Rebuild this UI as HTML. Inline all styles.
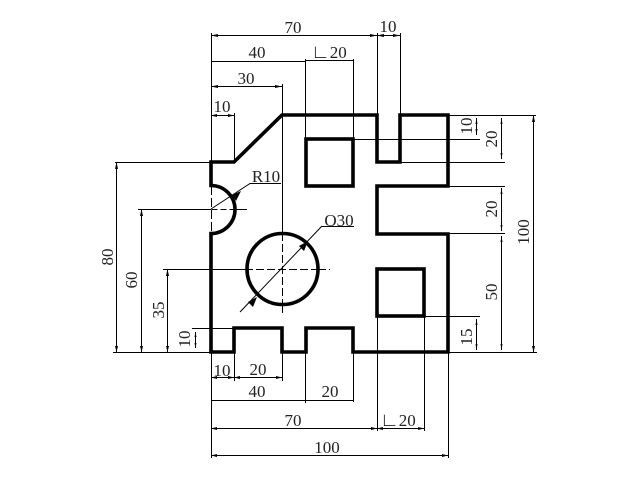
<!DOCTYPE html>
<html>
<head>
<meta charset="utf-8">
<style>
html,body{margin:0;padding:0;background:#fff;width:640px;height:480px;overflow:hidden}
svg{display:block}
text{font-family:"Liberation Serif",serif;font-size:17px;fill:#222;text-anchor:middle}
</style>
</head>
<body>
<svg width="640" height="480" viewBox="0 0 640 480" xmlns="http://www.w3.org/2000/svg">
<rect width="640" height="480" fill="#fff"/>
<!-- thin lines -->
<g fill="none" stroke="#000" stroke-width="1">
<!-- top dims -->
<path d="M211.5 33V186M377.5 33V115M400.5 33V115M305.5 59V139M353.5 59V139M282.5 84V233M234.5 113V162"/>
<path d="M211 35.5H400M211 61.5H305M305 60.5H354M211 86.5H283M211 115.5H235"/>
<!-- right dims -->
<path d="M448 115.5H536M353 139.5H480M400 162.5H505M448 186.5H505M448 233.5H505M424 316.5H480M448 352.5H537"/>
<path d="M476.5 118V135M501.5 118V159M533.5 115V352M501.5 188V231M501.5 236V350M476.5 319V350"/>
<!-- left dims -->
<path d="M115 162.5H211M138 209.5H211M234 209.5H247M163 269.5H245M192 328.5H234M113 352.5H211"/>
<path d="M116.5 162V352M141.5 209V352M167.5 269V352M195.5 332V348"/>
<!-- bottom dims -->
<path d="M211.5 233V458M234.5 352V381M282.5 352V381M305.5 352V403M353.5 352V402M377.5 316V431M424.5 316V431M448.5 352V458"/>
<path d="M211 377.5H282M211 400.5H354M211 428.5H425M211 455.5H448"/>
<!-- center lines and leaders -->
<path d="M282.5 233V305M282.5 305V316" stroke-dasharray="8 3"/>
<path d="M318 269.5H330M245 269.5H318" stroke-dasharray="8 3"/>
<path d="M211.5 209.5H234" stroke-dasharray="6 3"/>
<path d="M211.5 186V233" stroke-dasharray="9 3"/>
<path d="M211 209L250 183.5H281M322 226.5H354M322 226L240 312"/>
</g>
<!-- arrowheads -->
<g fill="#000">
<path d="M116.5 162l-1.5 7h3zM116.5 352l-1.5-6h3zM141.5 209l-1.5 7h3zM141.5 352l-1.5-6h3zM167.5 269l-1.5 7h3zM167.5 352l-1.5-6h3z"/>
<path d="M533.5 115l-1.5 7h3zM533.5 352l-1.5-6h3zM501.5 118l-1 6h2zM501.5 159l-1-6h2zM501.5 188l-1 6h2zM501.5 231l-1-6h2zM501.5 236l-1 6h2zM501.5 350l-1-6h2zM476.5 350l-1-6h2zM476.5 319l-1 6h2zM476.5 135l-1-6h2zM476.5 118l-1 6h2zM195.5 332l-1 5h2zM195.5 348l-1-5h2z"/>
<path d="M211 35.5l7-1.5v3zM377 35.5l-7-1.5v3zM400 35.5l-7-1.5v3zM377 35.5l7-1.5v3zM211 86.5l7-1.5v3zM282 86.5l-7-1.5v3zM211 115.5l6-1.5v3zM234 115.5l-6-1.5v3z"/>
<path d="M211 377.5l6-1.5v3zM234 377.5l-6-1.5v3zM234 377.5l6-1.5v3zM282 377.5l-6-1.5v3zM211 428.5l6-1.5v3zM377 428.5l-6-1.5v3zM377 428.5l6-1.5v3zM424 428.5l-6-1.5v3zM211 455.5l6-1.5v3zM448 455.5l-6-1.5v3z"/>
<path d="M232 195l4 6 5-10zM308 241l-9 5 5 5zM257 297l-9 5 5 5z"/>
</g>
<!-- thick outline -->
<g fill="none" stroke="#000" stroke-width="3.6" stroke-linejoin="miter">
<path d="M211 352V233.5A24 24 0 0 0 211 185.5V162H234L282 115H377V162H400V115H448V186H377V234H448V352H353V328H306V352H282V328H234V352Z"/>
<rect x="306" y="139" width="47" height="47"/>
<rect x="377" y="269" width="47" height="47"/>
<circle cx="282.5" cy="269" r="35.5"/>
</g>
<!-- labels -->
<text x="293" y="33">70</text>
<text x="388" y="32">10</text>
<text x="257" y="58">40</text>
<text x="329" y="58"><tspan font-size="19">∟</tspan>20</text>
<text x="246" y="84">30</text>
<text x="222" y="112">10</text>
<text x="266" y="182">R10</text>
<text x="339" y="226">O30</text>
<text x="222" y="376">10</text>
<text x="258" y="375">20</text>
<text x="257" y="397">40</text>
<text x="330" y="397">20</text>
<text x="293" y="426">70</text>
<text x="398" y="426"><tspan font-size="19">∟</tspan>20</text>
<text x="327" y="453">100</text>
<text transform="translate(113 257) rotate(-90)">80</text>
<text transform="translate(137 280) rotate(-90)">60</text>
<text transform="translate(164 310) rotate(-90)">35</text>
<text transform="translate(190 339) rotate(-90)">10</text>
<text transform="translate(472 126) rotate(-90)">10</text>
<text transform="translate(497 139) rotate(-90)">20</text>
<text transform="translate(497 209) rotate(-90)">20</text>
<text transform="translate(497 292) rotate(-90)">50</text>
<text transform="translate(472 337) rotate(-90)">15</text>
<text transform="translate(529 232) rotate(-90)">100</text>
</svg>
</body>
</html>
